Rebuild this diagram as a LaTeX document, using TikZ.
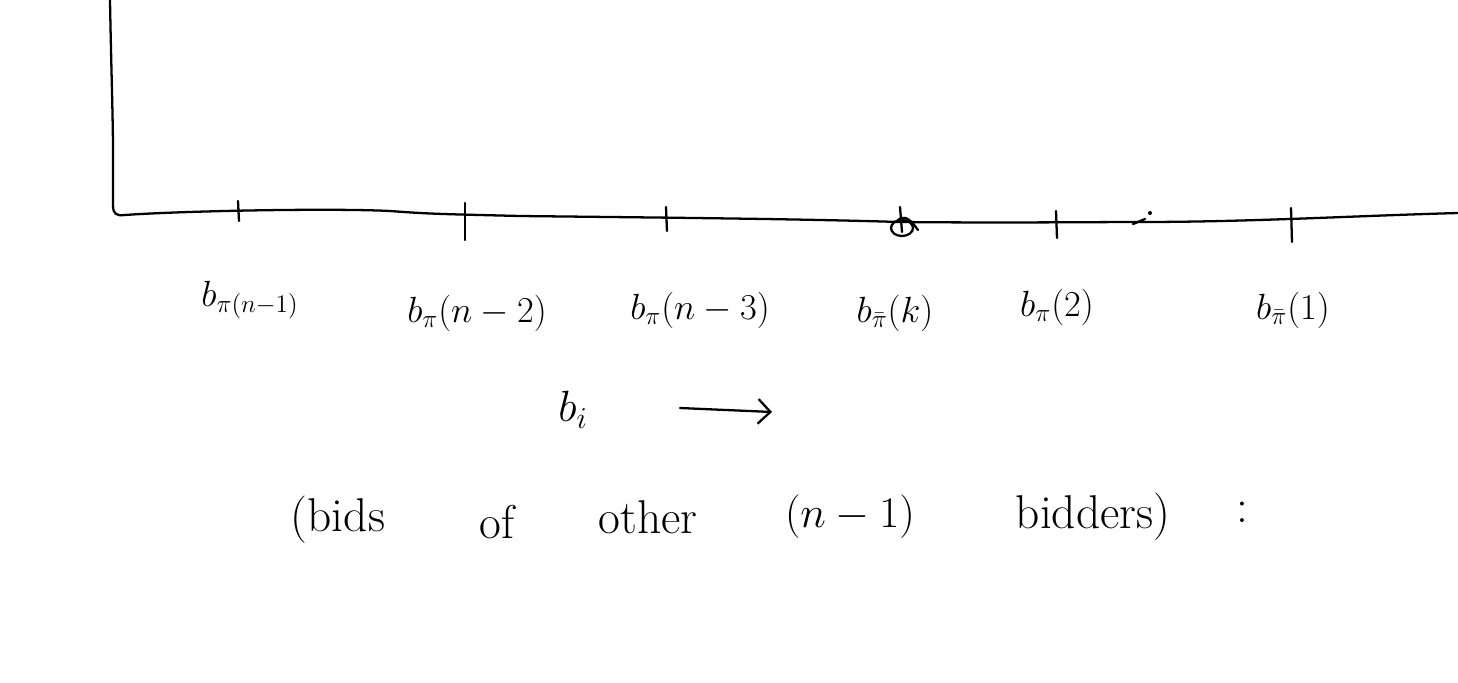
\documentclass[tikz,border=0pt]{standalone}
\usetikzlibrary{arrows.meta}
\begin{document}
\begin{tikzpicture}[x=0.02cm,y=-0.02cm,
  pen/.style={line width=1.3pt,line cap=round,line join=round},
  lbl/.style={inner sep=0pt,font=\fontsize{21}{25}\selectfont},
  word/.style={inner sep=0pt,font=\fontsize{27}{32}\selectfont}]
\useasboundingbox (0,0) rectangle (1458,683);
% axes
\coordinate (top) at (110,0);
\coordinate (corner) at (114,214);
\coordinate (rend) at (1458,213);
\draw[pen] (top) .. controls (111,60) and (113,120) .. (113,150) -- (113,205) .. controls (113,214) and (116,216) .. (125,215)
  .. controls (180,211) and (330,208) .. (390,211)
  .. controls (430,214) and (440,214) .. (520,216)
  .. controls (700,218) and (800,219) .. (900,222)
  .. controls (1000,223) and (1100,222) .. (1140,222)
  .. controls (1250,222) and (1350,216) .. (rend);
% ticks
\coordinate (t1a) at (238,201); \coordinate (t1b) at (239,221);
\coordinate (t2a) at (465,203); \coordinate (t2b) at (465,240);
\coordinate (t3a) at (666,207); \coordinate (t3b) at (667,231);
\coordinate (t5a) at (1056,211); \coordinate (t5b) at (1057,238);
\coordinate (t6a) at (1291,208); \coordinate (t6b) at (1292,242);
\draw[pen] (t1a) -- (t1b);
\draw[pen] (t2a) -- (t2b);
\draw[pen] (t3a) -- (t3b);
\draw[pen] (t5a) -- (t5b);
\draw[pen] (t6a) -- (t6b);
% scribbled mark at b_pi(k)
\coordinate (mk) at (902,228);
\draw[pen] (mk) ellipse [x radius=11, y radius=8];
\draw[pen] (900,207) -- (902,232);
\draw[pen] (896,222) .. controls (905,212) and (912,222) .. (918,230);
% small marks near 1140
\coordinate (dot) at (1150,213);
\fill (dot) circle (2);
\draw[pen] (1133,224) -- (1145,219);
% labels
\node[lbl] (l1) at (250,300) {$b_{\pi(n-1)}$};
\node[lbl] (l2) at (477,313) {$b_{\pi}(n-2)$};
\node[lbl] (l3) at (700,310) {$b_{\pi}(n-3)$};
\node[lbl] (l4) at (895,313) {$b_{\bar\pi}(k)$};
\node[lbl] (l5) at (1057,307) {$b_{\pi}(2)$};
\node[lbl] (l6) at (1293,310) {$b_{\bar\pi}(1)$};
% b_i with arrow
\node[word] (bi) at (573,410) {$b_i$};
\coordinate (a1) at (680,408);
\coordinate (a2) at (772,412);
\draw[pen,-{Straight Barb[length=7pt,width=14pt]}] (a1) -- (a2);
% caption
\node[word] (w1) at (338,520) {(bids};
\node[word] (w2) at (497,522) {of};
\node[word] (w3) at (648,517) {other};
\node[word] (w4) at (850,517) {$(n-1)$};
\node[word] (w5) at (1093,517) {bidders)};
\node[word] (w6) at (1242,512) {:};
\end{tikzpicture}
\end{document}
